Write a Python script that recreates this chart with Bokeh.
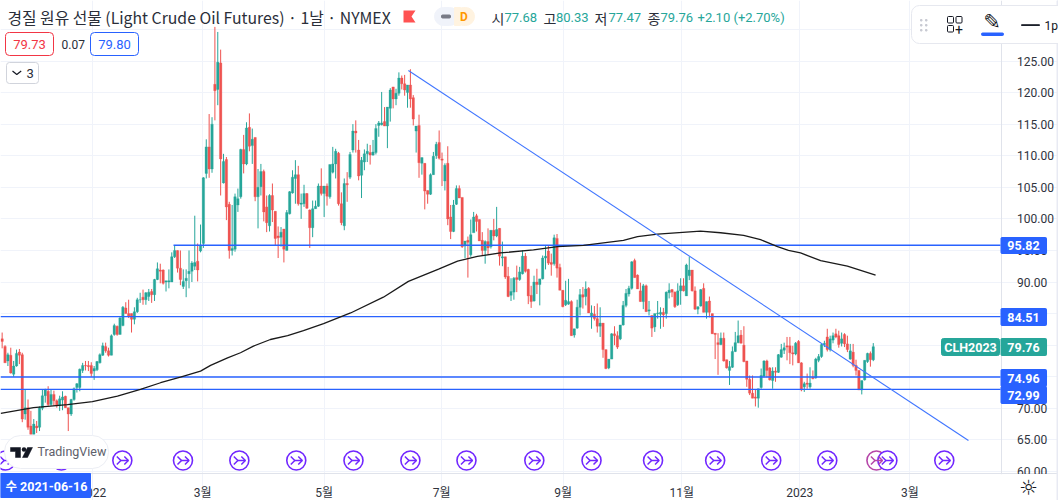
from bokeh.plotting import figure
from bokeh.models import ColumnDataSource, BoxAnnotation, Label, FixedTicker, NumeralTickFormatter
from bokeh.embed import file_html
from bokeh.resources import INLINE

# Daily candles (open, high, low, close)
candles_dec_jan = [(81,82,79.5,80.6),(79.8,80,77.2,77.2),(77.5,78.8,76.7,78.5),(78.4,79.6,75.5,75.6),(75.4,77.5,75.0,76.7),(76.7,79.3,76.6,78.7),(78.9,79.4,77.0,78.4),(78.5,78.8,67.8,68.3),(69.1,73.0,68.2,70.1),(70.1,71.4,66.6,67.0),(67.2,69.6,65.9,65.9),(65.9,68.3,65.9,67.5),
 (67.2,68.0,66.1,66.9),(67,70.3,66.4,70.1),(70,73,69.7,72),(72,73.1,70.9,72.9),(72.7,73.5,70.4,70.6),(70.6,73,70.4,72.2),(72.2,72.8,70.4,71.2),(71.2,71.4,70.1,70.4),(70.4,72,69.6,71.5),(71.3,72.7,69.7,71.8),
 (71.9,72,70.1,70.1),(70.1,70.1,66.4,69.1),(69.1,71.5,68.8,71.4),(71.4,73.3,71.2,73.1),(73.3,74,72.5,73.9),(73.3,76.3,72.7,76.2),(76,77.2,75.6,76.8),(76.8,77.5,76.0,76.7),(76.8,77.5,75.9,76.6),(76.8,77.3,75,75.5)]
candles_jan_feb = [(75.9,76.7,74.5,76.3),(76.1,77.5,75.9,77.4),(77.2,78.7,77.1,78.5),(78.4,80.4,78.3,79.9),(79.8,80.4,78.8,79.1),(79.1,79.6,78.2,78.4),(78.4,81.7,78.4,81.5),(81.7,83.4,81.5,83.1),(83,83.1,81.5,81.7),(81.7,84.6,81.7,84.3),
 (83.1,86.2,83,86),(85.9,86.8,85,85),(85,87.2,84.3,84.6),(85,85,82,84.1),(84.1,86,83.3,85.3),(85.3,87.5,85.1,87.2),(87.2,88.3,86.7,87.2),(87.6,88.8,86.4,87.2),(87.2,88.4,86.4,88.3),(87.7,88.9,87,88.4),
 (88.5,88.9,86.7,88),(88,90.5,87,90.4),(90.4,93.1,90.3,92.1),(91.9,92.9,89.8,91.7),(91.9,92,89.6,89.8),(90,90.2,88.5,90.2),(90,92,89,90.2),(90,94.7,90,94),(94,95.8,93.8,95),(95,95,91.5,92.2),
 (92.2,95,89.5,90.4),(89.3,92,88.9,90.1),(90.2,92,87.6,90.6),(91.3,95,89,91.7),(91.7,93.3,90,93),(92.5,100.5,91.9,93.1),(93.3,96.1,90.1,91.9),(94.9,99.1,94.7,95.8)]
candles_mar = [(96.1,106.6,95.4,106.5),(107.2,112.6,106.4,111.4),(111.4,116.6,106.5,107.9),(107.9,116.1,107.3,115),(121.3,130.4,115.6,120.3),(120.5,129.6,118,124.8),(124.7,126.8,103.7,109.5),(105.7,110.3,105.6,109.1),(109.4,109.8,99.8,101.9),(102.3,102.7,93.7,95),
 (95,102.2,94.2,95.3),(95.2,104,94.8,103.5),(102.2,104.8,101.1,103.2),(103.5,111.1,103.2,111),(111,113.3,107.2,108.7),(108.7,115.3,108.5,114.4),(114.5,116.7,110.7,111.5),(111.6,114.3,108.7,112.6),(112.9,112.9,102.8,103.5),(103.5,107.9,98.5,105),
 (105.1,108.7,103.7,107.5),(107.5,107.8,99.6,101.1),(101.9,103.7,97.9,99.4),(98.9,103.9,98,103.7),(103.7,105.6,99.5,101.4),(101.2,101.2,95.8,96.9),(97.3,98.8,93.8,97),(97.1,98.7,95.6,97.9),(98.4,98.4,93.1,95.2),(95,101.4,95,101)]
candles_apr = [(100.8,104.4,100.7,104.3),(104.1,107.7,104,106.6),(106.4,109.3,102.4,107),(107,108.4,102.1,102.4),(102.3,104,100,102.5),(102.4,105.4,101.9,104),(104,104.1,101.6,101.7),(101.4,101.5,95.4,98.6),(98.6,102.9,97.1,101.6),(101.6,102.9,101.6,102),
 (102,105.6,101.9,105.2),(105.2,108,103.7,104),(104,105.2,100.3,105.2),(105.2,105.6,102.1,103.6),(103.5,108.6,103.2,108.6),(107.4,111.4,107.2,108.7),(108.7,111.1,106.4,110.7),(110.4,110.6,102.1,102.4),(102.4,104.2,99,99.4),(98.9,106.4,98.2,105.6)]
candles_may = [(105.6,107.4,102.7,105.4),(106.6,110.6,106.3,110.2),(110.9,115,110.5,113.9),(113.9,115.6,110.5,113.6),(110.9,112.5,106.1,106.8),(106.9,109.8,103.3,109.3),(109,111,107.7,110.3),(110.3,111.9,109,110.7),(110.5,111.7,108.6,110.1),(110.1,112.5,110,110.6),
 (110.5,115,110.2,114.3),(114.8,115.5,113,115.2),(114.9,120.1,114.8,115.2),(115.4,117.7,114.7,114.7),(114.7,117.7,111.2,117.7),(117.5,120.7,115.4,120.4),(120.9,120.9,117.5,119),(119,120.6,118,119.9),(119.9,123.2,119.5,122.3),(122.3,122.7,120.5,121.4),
 (121.4,122.8,119.5,120.4),(120,121.2,117.6,121.2),(121.2,123.7,117.6,119),(119.2,119.6,114.8,115.8),(113.9,114.7,110.5,114.7)]
candles_jun = [(114.8,116.5,106.5,108.9),(108.8,109.7,107,109.7),(108.8,108.8,101.5,104.4),(104.5,104.5,102.4,103.9),(103.9,107.2,103.8,107),(107,110.6,107,109.9),(110,112.2,109.5,111.8),(112.1,114,109.4,109.6),(109.5,110.5,105.2,109.3),(106,108.8,104.5,108.5),
 (108.8,111.5,99,100),(100.3,102.2,96.8,98),(98,103,97.9,102.2),(102.3,105.3,102.2,104.8),(104.8,105.3,103.3,103.3),(103.4,103.4,95.4,95.6),(95.7,96.5,93.8,96.5),(96.6,97.2,90.7,96.3),(94.3,99.9,94,97.5),(97.8,101.1,97.9,100.3)]
candles_jul = [(100.5,100.8,98,99.6),(99.9,99.9,96.5,96.5),(96.6,97.9,94.2,95),(95,96.6,92.9,96.4),(96.4,98.5,94.4,95.4),(95.6,98.2,95.3,98.2),(98.2,100,96.6,97.3),(97.3,101.9,97.1,98.3),(98.5,98.5,92.6,94.1),(93.8,96.4,92.5,94),
 (94,94,90.5,90.8),(90.9,92.4,87.6,87.7),(87.9,90.6,87,88.5),(88.4,90.8,87.2,90.6),(90.7,92.6,88.4,90.4),(90.4,92.4,90.2,91.6),(91.3,95,91.2,94.1),(94.1,94.6,91.5,91.7),(92,92.1,86.5,87.8),(87.9,89.4,85.9,86.9)]
candles_aug = [(87,91,86.9,90),(90,92.1,88.1,89.6),(89.6,90.5,86.3,90.5),(90.5,94.2,90.4,93.8),(93.8,95.7,92,94.1),(94.9,95.7,92.7,93),(93.1,94.5,91,92.8),(92.9,97.5,92.6,97),(96.9,97.6,90.7,92.2),
 (92.3,92.9,88.7,88.7),(88.7,88.7,86,86.1),(86.4,90.2,86.2,87.1),(86.5,90.5,86.4,86.9),(86.9,87.1,81.5,81.5),(81.6,82.6,81.2,82.6),(82.7,87.2,82.6,86),(86,88.9,84.7,88),(88,89.2,85.8,87.6),(87.7,90.1,86.3,88.9)]
candles_sep = [(89,89.2,85.1,85.1),(84.5,86.3,82.6,85.1),(84.9,86.2,83.9,84.2),(84.2,86.6,82,83),(83,86,81.3,83.5),(83.5,83.5,78,79.3),(79.3,79.3,76.2,76.3),(76.4,77.8,76.2,77.8),(77.8,81.9,77.8,81.8),(81.8,83,80,81.5),
 (81.5,82.2,79.4,79.7),(81,83.2,80.8,83.2),(83.2,87,83.1,86.3),(86.3,88.9,86,88.2),(88.1,89.4,87.7,89),(89,93.3,88.8,93.2),(93.4,93.7,90.7,90.7),(91.1,91.2,88.9,88.9),(88.6,89.9,86.9,86.9),(86.9,89.7,85.7,89.4)]
candles_oct = [(89.4,89.6,85.3,85.3),(85.4,87,84.7,85.6),(84.7,84.7,81.3,82.7),(82.9,85,82.1,85),(85,87,84.2,85.1),(84.9,86,82.6,85.2),(85.2,85.9,82.9,84.8),(85,88.5,84.2,88.4),(88.3,89.8,87.4,88.7),
 (88.8,88.9,87.6,88.4),(88.4,88.5,85.9,86.1),(86.4,89.8,86.2,88.6),(88.6,90.6,86.4,89.4),(89.4,90.6,88.5,88.6),(87.8,92.9,87.8,92.7),(91,94,90.3,91.9),(91.9,91.9,88.5,88.6),(88.6,89.3,85.6,85.7),(85.7,86.1,84.9,86.1)]
candles_nov = [(86.2,88.9,86.1,88.8),(89,89.8,85.2,85.2),(85.2,86.9,84.2,86.9),(87,87.7,84.4,85.2),(85,85,81.8,81.8),(81.9,81.9,77.8,81.7),(80.4,81.9,75.3,80.1),(80.1,82,80,81.1),(81.1,82,77.4,77.5),(77.7,77.7,76.3,76.4),
 (76,77.5,73.7,76.6),(76.5,79.8,76.4,79),(79,82.1,78.9,80.4),(80.4,83.9,80.3,81.5),(81.6,82.4,80.3,80.3),(80,83,77.3,77.4),(77.5,77.5,73.4,74.6),(74.6,75.2,72.1,72.4),(72.4,75.2,71.6,71.6),(71.8,73,70.3,71.6)]
candles_dec = [(71.6,73.1,70.1,73.1),(73.3,76.3,73.1,75.2),(75.1,77.6,74.9,77.5),(77.5,77.7,74.9,76),(76.4,76.5,74.4,74.5),(74.4,76.5,73.1,75.9),(75.9,76.5,74.2,75.7),(75.7,78.6,75.6,78.5),(78.1,80.2,78,79.3),(79.2,80.4,78.6,79.6),
 (79.9,81.3,77.6,79.7),(79.9,81.3,77,78.8),(78.8,79.9,76.8,78.6),(78.6,80.5,78.4,80.3),(80.6,80.8,77.2,77.2),(77.2,77.3,72.7,72.9),(73.4,74.2,72.6,73.9),(74,75.5,73.1,73.8),(73.4,76.5,73.1,74),(74.9,76,74.6,74.7)]
candles_jan_23 = [(74.8,78,74.7,77.8),(77.6,78.6,77.3,78.2),(78.2,80.2,78,80.1),(80.1,80.7,79.7,80.3),(81.3,82.6,79,79.3),(79.3,81.5,79,81),(80.8,82,80.3,81.5),(81.8,82.6,81.1,81.3),(81.5,82.3,79.6,80.1),(80.3,82,79.8,81),
 (81.7,81.9,79.7,80.2),(80.2,81.5,78.9,79.3),(77.8,80.2,77.7,79.1),(78.9,80.2,76.5,76.8),(76.8,77.7,75.2,76),(76,76,72.9,72.9),(72.9,74.4,72.2,74.4),(74.5,77.6,74.4,77.6),(77.4,78.8,77.2,78.7),(78.7,79,76.6,77.7),(77.68,80.33,77.47,79.76)]

# 200-day moving average (bar index, price)
ma_index = [-2.5,8.9,20.7,29.4,38.1,46.1,53.1,60,67,70.5,76.4,80.9,85.4,91.3,97.3,102.8,109.8,119.2,130.6,139.3,149.8,156.4,163.3,171.3,182.8,191.2,200.2,214.1,219,226,240.9,247.9,255.9,261.8,267.7,271.5,275.7,282.7,292,301.8]
ma_price = [69.2,70.1,70.6,71.05,71.95,73,74.05,74.95,75.9,76.8,78,78.8,79.85,80.9,81.5,82.3,83.4,85.1,87.6,90.1,92.05,93.3,94.05,94.6,95.1,95.6,95.8,96.6,97.2,97.6,98.05,97.8,97.4,96.7,95.6,95,94.6,93.4,92.5,91.1]

# Drawn levels and trend line
level_prices = [95.82, 84.51, 74.96, 72.99]
trend_index = [139.3, 334.1]
trend_price = [123.5, 64.9]

# Axis
price_ticks = [60,65,70,75,80,85,90,95,100,105,110,115,120,125,130]
month_index = [29.5,67.7,110,150.9,193.1,234.4,275.4,313.7]
month_labels = ["2022","3월","5월","7월","9월","11월","2023","3월"]

# Event markers on the time line (bar index)
event_index = [-0.8,18.6,39.8,60.9,80.5,100.3,120.2,140,159.5,183.1,203,224.4,246,265.5,285,302.1,305.9,325.7]

candles = (candles_dec_jan + candles_jan_feb + candles_mar + candles_apr + candles_may + candles_jun + candles_jul
           + candles_aug + candles_sep + candles_oct + candles_nov + candles_dec + candles_jan_23)

GREEN, RED, BLUE = "#26a69a", "#ef5350", "#2962ff"
STEP, LEFT = 2.875, 7.4
def X(px): return (px - LEFT) / STEP
def Y(py): return 125 - (py - 60.5) / 6.315

p = figure(frame_width=1058, frame_height=500, output_backend="svg", toolbar_location=None,
           x_range=(X(0), X(1058)), y_range=(Y(500), Y(0)), y_axis_location="right",
           min_border_left=0, min_border_top=0, min_border_right=0, min_border_bottom=0,
           outline_line_color=None, background_fill_color="white", border_fill_color="white")

AXIS_FONT = "Roboto, 'Noto Sans CJK KR'"
p.yaxis.ticker = FixedTicker(ticks=price_ticks)
p.yaxis.formatter = NumeralTickFormatter(format="0.00")
p.xaxis.ticker = FixedTicker(ticks=month_index)
p.xaxis.major_label_overrides = {k: v for k, v in zip(month_index, month_labels)}
p.yaxis.fixed_location = X(1000.5)
p.xaxis.fixed_location = Y(473)
for ax in (p.xaxis[0], p.yaxis[0]):
    ax.axis_line_color = "#e0e3eb"
    ax.major_tick_line_color = None
    ax.minor_tick_line_color = None
    ax.major_label_text_font = AXIS_FONT
    ax.major_label_text_font_size = "12px"
    ax.major_label_text_color = "#2f333d"
p.yaxis.major_label_standoff = 10
p.xaxis.major_label_standoff = 6
p.grid.grid_line_color = "#f0f3fa"
p.grid.grid_line_width = 1

# Keep the grid out of the scale areas
p.quad(left=[X(1000.5), X(0)], right=[X(1058), X(1058)], top=[Y(0), Y(473)], bottom=[Y(500), Y(500)],
       fill_color="white", line_color=None, level="underlay")

idx = list(range(-2, len(candles) - 2))
src = ColumnDataSource(dict(
    x=idx,
    o=[c[0] for c in candles], h=[c[1] for c in candles], l=[c[2] for c in candles], c=[c[3] for c in candles],
    col=[GREEN if c[3] >= c[0] else RED for c in candles],
))

# Event markers
ev_colors = ["#7127ff"] * len(event_index)
ev_colors[-3] = "#b545a8"
p.scatter(event_index, [Y(460)] * len(event_index), marker="circle", size=19, fill_color="white",
          line_color=ev_colors, line_width=1.6)
arrow_xs, arrow_ys = [], []
for e in event_index:
    arrow_xs += [[e - 5.5 / STEP, e - 1.5 / STEP, e - 5.5 / STEP], [e - 2 / STEP, e + 6 / STEP], [e + 2 / STEP, e + 6 / STEP, e + 2 / STEP]]
    arrow_ys += [[Y(456), Y(460), Y(464)], [Y(460), Y(460)], [Y(456), Y(460), Y(464)]]
arrow_cols = [c for c in ev_colors for _ in range(3)]
p.multi_line(arrow_xs, arrow_ys, line_color=arrow_cols, line_width=1.5)

p.segment("x", "h", "x", "l", source=src, line_color="col", line_width=1)
p.vbar("x", width=0.85, top="o", bottom="c", source=src, fill_color="col", line_color="col", line_width=0.3)

# Levels
p.segment([X(173)], [level_prices[0]], [X(1000)], [level_prices[0]], line_color=BLUE, line_width=1.3)
for lv in level_prices[1:]:
    p.segment([X(0)], [lv], [X(1000)], [lv], line_color=BLUE, line_width=1.3)
p.line(ma_index, ma_price, line_color="#1a1a1a", line_width=1.3)
p.line(trend_index, trend_price, line_color="#3f75ff", line_width=1.1)

def box(x0, x1, y0, y1, fill="white", line=None, radius=0, lw=1):
    b = BoxAnnotation(left=x0, right=x1, top=y0, bottom=y1,
                      left_units="canvas", right_units="canvas", top_units="canvas", bottom_units="canvas",
                      fill_color=fill, fill_alpha=1,
                      line_color=line if line else fill, line_width=lw, line_alpha=1, border_radius=int(radius), level="annotation")
    p.add_layout(b)

def text(x, y, s, color="#131722", size=13, style="normal", align="left", font="Noto Sans CJK KR"):
    p.add_layout(Label(x=X(x), y=Y(y), text=s, text_color=color, text_font_size=f"{size}px", text_font_style=style,
                       text_align=align, text_baseline="middle", text_font=font))

LATIN = "Roboto"

# Cover the scale below the time line and the right rail
box(1001, 1058, 474, 500)
box(1056.5, 1058, 0, 500, fill="#e8eaf3")

# Price tags
for y0, y1, s in [(237, 253, "95.82"), (308, 325, "84.51"), (369, 386, "74.96"), (386, 403, "72.99")]:
    box(1000.5, 1046, y0, y1, fill=BLUE, radius=1)
    text(1023, (y0 + y1) / 2, s, color="white", size=12.5, style="bold", align="center", font=LATIN)
box(941, 999, 338, 355, fill=GREEN, radius=2)
box(1000.5, 1046, 338, 355, fill=GREEN, radius=1)
text(970, 346.5, "CLH2023", color="white", size=12.5, style="bold", align="center", font=LATIN)
text(1023, 346.5, "79.76", color="white", size=12.5, style="bold", align="center", font=LATIN)

# Date tag and TradingView badge
box(0, 90, 473, 497, fill=BLUE)
text(5, 486, "수 2021-06-16", color="white", size=12.5, style="bold", font=AXIS_FONT)
box(4, 108, 435, 468, fill="white", line="#eceef4", radius=16)
text(37, 451, "TradingView", color="#5d606b", size=12.5, font=LATIN, style="normal")
p.patches([[X(10), X(20), X(20), X(15), X(15), X(10)], [X(27), X(32), X(27), X(22)]],
          [[Y(447), Y(447), Y(457), Y(457), Y(451), Y(451)], [Y(447), Y(447), Y(457), Y(457)]],
          fill_color="#131722", line_color="#131722", line_width=0.5, level="overlay")
p.scatter([X(23.5)], [Y(449)], marker="circle", size=4.5, fill_color="#131722", line_color=None, level="overlay")

# Header
text(7, 17, "경질 원유 선물 (Light Crude Oil Futures) · 1날 · NYMEX", color="#2a2e39", size=15.8)
p.patch([X(403), X(415), X(411), X(415), X(403)], [Y(10), Y(10), Y(16), Y(22), Y(22)], fill_color="#ff5252", line_color=None, level="overlay")
box(434, 458, 7, 25, fill="#f0f3fa", radius=9)
box(454, 474, 7, 25, fill="#fff3e0", radius=9)
box(454, 460, 7, 25, fill="#fff3e0")
box(441, 450, 14.5, 17.5, fill="#787b86", radius=1)
text(463.5, 16, "D", color="#ff9800", size=12, style="bold", align="center", font=LATIN)
for sx, s, vx, v in [(491, "시", 504, "77.68"), (543, "고", 555.5, "80.33"), (594, "저", 608, "77.47"), (647, "종", 660, "79.76")]:
    text(sx, 17, s, color="#2a2e39", size=14)
    text(vx, 17, v, color=GREEN, size=13, font=LATIN)
text(697, 17, "+2.10 (+2.70%)", color=GREEN, size=13, font=LATIN)

# Buy / sell boxes
box(5, 53, 32, 55, fill="white", line="#f23645", radius=4)
text(29, 44, "79.73", color="#f23645", size=13, align="center", font=LATIN)
text(61, 44, "0.07", color="#2a2e39", size=12, font=LATIN)
box(90, 138, 32, 55, fill="white", line=BLUE, radius=4)
text(114, 44, "79.80", color=BLUE, size=13, align="center", font=LATIN)
box(6, 38, 62, 83, fill="white", line="#d1d4dc", radius=3)
p.line([X(12), X(16.3), X(20.7)], [Y(70.5), Y(74), Y(70.5)], line_color="#131722", line_width=1.2, level="overlay")
text(26, 72.5, "3", color="#2a2e39", size=13, font=LATIN)

# Drawing toolbar
box(911, 1070, 5, 43, fill="white", line="#e6e8ef", radius=8)
for gy in (19, 24, 29):
    box(920, 921.5, gy, gy + 1.5, fill="#c9cbd3")
    box(925, 926.5, gy, gy + 1.5, fill="#c9cbd3")
for (a, b, c, d) in [(947, 953, 16, 22.5), (955.5, 961.5, 16, 22.5), (947, 953, 25, 31.5)]:
    box(a, b, c, d, fill="white", line="#131722", radius=1)
text(958.5, 28.5, "+", color="#131722", size=14, align="center", font=LATIN)
text(991.5, 21, "✎", color="#131722", size=21, align="center", font="DejaVu Sans")
box(981, 1003, 32.5, 35, fill=BLUE, radius=1)
box(1021, 1039, 24.3, 24.9, fill="#131722")
text(1044, 25, "1p", color="#131722", size=12, font=LATIN)

# Settings icon
text(1028, 487, "☼", color="#131722", size=21, align="center", font="DejaVu Sans")

open("out.html", "w").write(file_html(p, INLINE))
